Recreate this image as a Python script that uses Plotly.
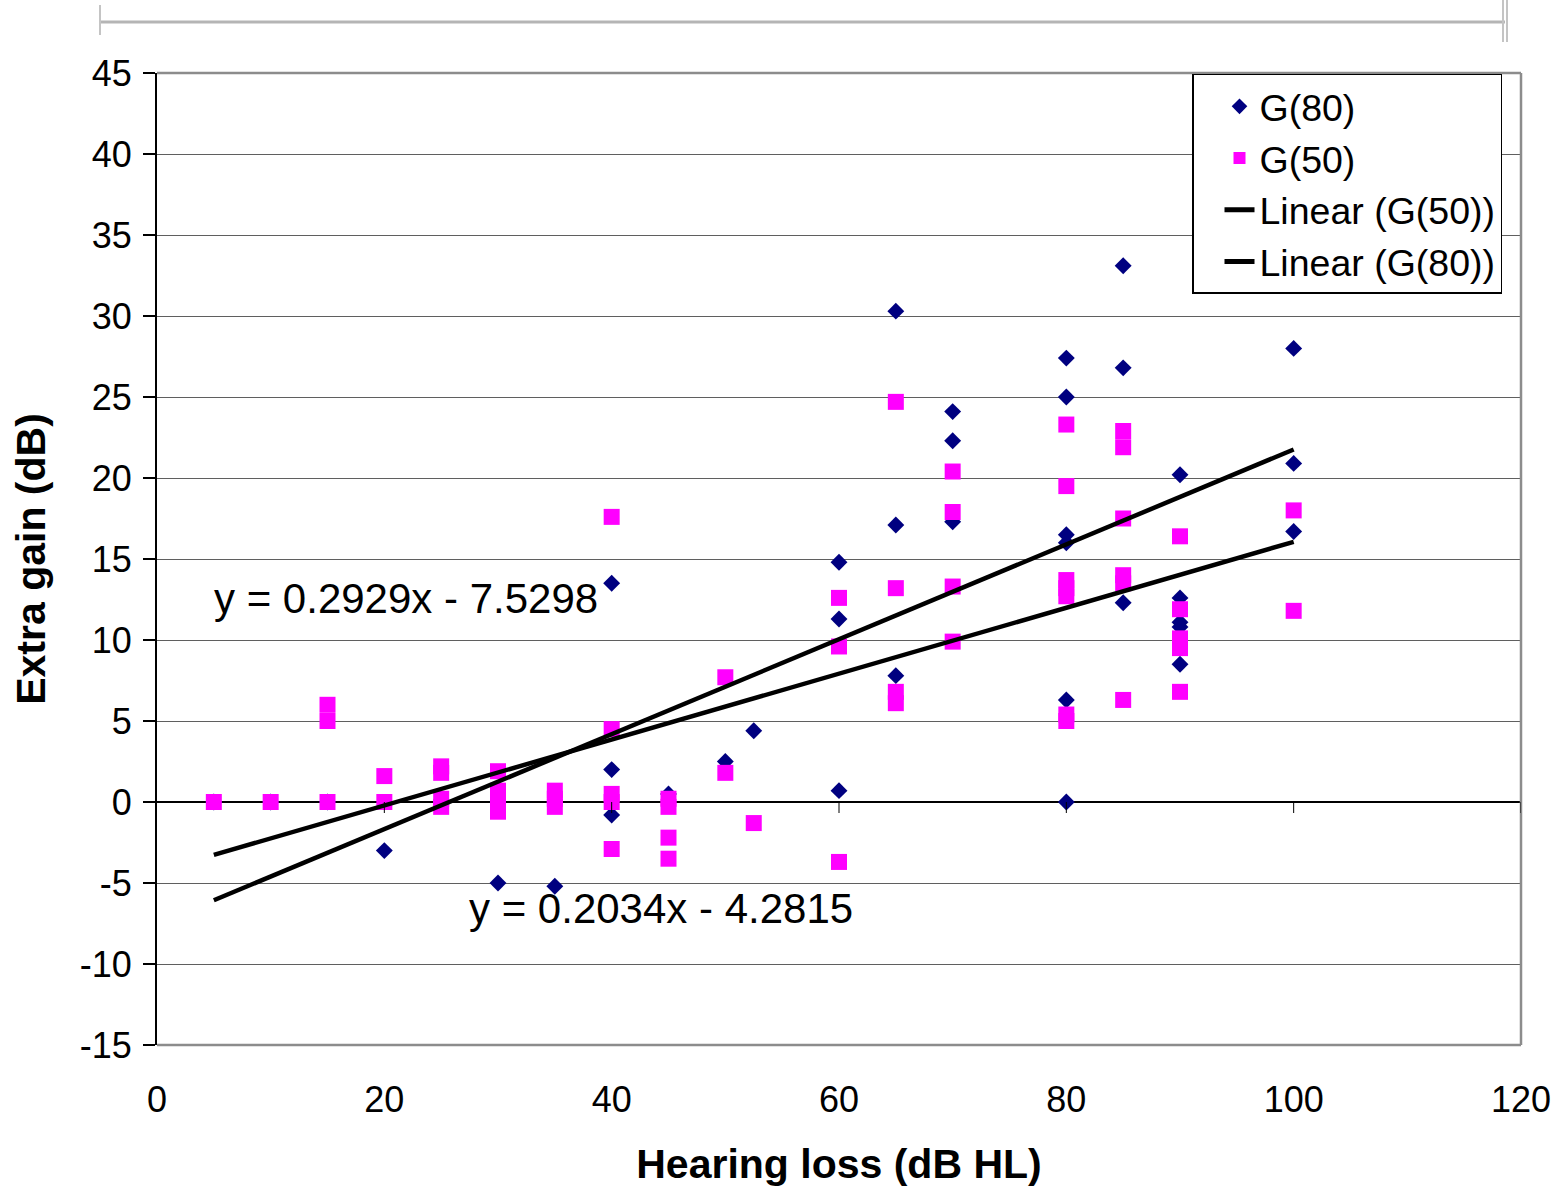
import plotly.graph_objects as go

# Extra gain measured at 80 dB SPL input, by hearing loss
g80_x = [5, 10, 15, 20, 25, 30, 30, 35, 35,
         40, 40, 40, 45, 50, 52.5,
         60, 60, 60, 65, 65, 65, 70, 70, 70,
         80, 80, 80, 80, 80, 80, 85, 85, 85,
         90, 90, 90, 90, 90, 100, 100, 100]
g80_y = [0, 0, 0, -3.0, 0, -5.0, 0, -5.2, 0,
         13.5, 2.0, -0.8, 0.5, 2.5, 4.4,
         14.8, 11.3, 0.7, 30.3, 17.1, 7.8, 24.1, 22.3, 17.3,
         27.4, 25.0, 16.5, 16.0, 6.3, 0.0, 33.1, 26.8, 12.3,
         20.2, 12.6, 11.1, 10.8, 8.5, 28.0, 20.9, 16.7]

# Extra gain measured at 50 dB SPL input, by hearing loss
g50_x = [5, 10, 15, 15, 15, 20, 20,
         25, 25, 25, 25, 30, 30, 30, 30, 35, 35, 35,
         40, 40, 40, 40, 40, 45, 45, 45, 45,
         50, 50, 52.5, 60, 60, 60, 65, 65, 65, 65,
         70, 70, 70, 70, 80, 80, 80, 80, 80, 80, 80,
         85, 85, 85, 85, 85, 85, 90, 90, 90, 90, 90, 100, 100]
g50_y = [0, 0, 6.0, 5.0, 0, 1.6, 0,
         2.2, 1.8, 0.2, -0.3, 1.9, 0.7, 0, -0.6, 0.7, 0.2, -0.3,
         17.6, 4.5, 0.5, 0, -2.9, 0.2, -0.3, -2.2, -3.5,
         7.7, 1.8, -1.3, 12.6, 9.6, -3.7, 24.7, 13.2, 6.8, 6.1,
         20.4, 17.9, 13.3, 9.9, 23.3, 19.5, 13.7, 13.2, 12.7, 5.4, 5.0,
         22.9, 21.9, 17.5, 14.0, 13.5, 6.3, 16.4, 11.9, 10.1, 9.5, 6.8, 18.0, 11.8]

# Least-squares trend lines (slope, intercept) as printed on the chart
fit80 = (0.2929, -7.5298)
fit50 = (0.2034, -4.2815)
fit_x = [5, 100]

x_ticks = [0, 20, 40, 60, 80, 100, 120]
y_ticks = list(range(-15, 50, 5))

FONT = "Arial, Liberation Sans, sans-serif"


def eq_label(fit):
    return f"y = {fit[0]:.4f}x - {abs(fit[1]):.4f}"


def line_y(fit):
    return [fit[0] * x + fit[1] for x in fit_x]


fig = go.Figure()
fig.add_trace(go.Scatter(
    x=g80_x, y=g80_y, mode="markers", name="G(80)",
    marker=dict(symbol="diamond", size=13, color="#000080"),
))
fig.add_trace(go.Scatter(
    x=g50_x, y=g50_y, mode="markers", name="G(50)",
    marker=dict(symbol="square", size=16, color="#FF00FF"),
))
fig.add_trace(go.Scatter(
    x=fit_x, y=line_y(fit50), mode="lines", name="Linear (G(50))",
    line=dict(color="black", width=4.5),
))
fig.add_trace(go.Scatter(
    x=fit_x, y=line_y(fit80), mode="lines", name="Linear (G(80))",
    line=dict(color="black", width=4.5),
))

# Equation labels next to the trend lines
fig.add_annotation(x=4.8, y=12.55, text=eq_label(fit80), showarrow=False,
                   xanchor="left", yanchor="middle",
                   font=dict(family=FONT, size=42, color="black"))
fig.add_annotation(x=27.3, y=-6.6, text=eq_label(fit50), showarrow=False,
                   xanchor="left", yanchor="middle",
                   font=dict(family=FONT, size=42, color="black"))

shapes = []
# Plot-area frame (top, right, bottom) in grey
for x0, y0, x1, y1 in [(0, 1, 1, 1), (1, 0, 1, 1), (0, 0, 1, 0)]:
    shapes.append(dict(type="line", xref="paper", yref="paper",
                       x0=x0, y0=y0, x1=x1, y1=y1,
                       line=dict(color="#8c8c8c", width=2.5)))
# Category ticks hanging below the zero line
for t in x_ticks[1:]:
    shapes.append(dict(type="line", xref="x", yref="y", ysizemode="pixel",
                       yanchor=0, x0=t, x1=t, y0=0, y1=-11,
                       line=dict(color="black", width=1)))
# Slide header rule above the chart
shapes.append(dict(type="line", xref="paper", yref="paper", xsizemode="pixel",
                   ysizemode="pixel", xanchor=0, yanchor=1,
                   x0=-57, x1=1348, y0=51, y1=51,
                   line=dict(color="#b5b5b5", width=3)))
for px, top, bot in [(-57, 68, 38), (1346, 73, 31), (1350, 73, 31)]:
    shapes.append(dict(type="line", xref="paper", yref="paper", xsizemode="pixel",
                       ysizemode="pixel", xanchor=0, yanchor=1,
                       x0=px, x1=px, y0=top, y1=bot,
                       line=dict(color="#c4c4c4", width=2)))

fig.update_layout(
    width=1557, height=1187,
    margin=dict(l=157, r=36, t=73, b=142, autoexpand=False),
    paper_bgcolor="white", plot_bgcolor="white",
    font=dict(family=FONT, size=36, color="black"),
    showlegend=True,
    legend=dict(
        x=0.7588, y=0.999, xanchor="left", yanchor="top",
        bgcolor="white", bordercolor="black", borderwidth=1.5,
        font=dict(family=FONT, size=37.5, color="black"),
        itemsizing="constant", indentation=26,
    ),
    xaxis=dict(
        range=[0, 120], tickvals=x_ticks, ticktext=[str(v) for v in x_ticks],
        ticks="", showgrid=False, automargin=False,
        zeroline=False, showline=False, ticklabelstandoff=30,
        title=dict(text="<b>Hearing loss (dB HL)</b>", standoff=32,
                   font=dict(family=FONT, size=41)),
        tickfont=dict(size=36),
    ),
    yaxis=dict(
        range=[-15, 45], tickvals=y_ticks, ticktext=[str(v) for v in y_ticks],
        ticks="outside", ticklen=12, automargin=False,
        tickcolor="black", tickwidth=1.5,
        showgrid=True, gridcolor="#5f5f5f", gridwidth=1,
        zeroline=True, zerolinecolor="black", zerolinewidth=1.5,
        showline=True, linecolor="black", linewidth=2,
        ticklabelstandoff=4,
        title=dict(text="<b>Extra gain (dB)</b>", standoff=21,
                   font=dict(family=FONT, size=41)),
        tickfont=dict(size=36),
    ),
    shapes=shapes,
)

fig.write_html("out.html")
